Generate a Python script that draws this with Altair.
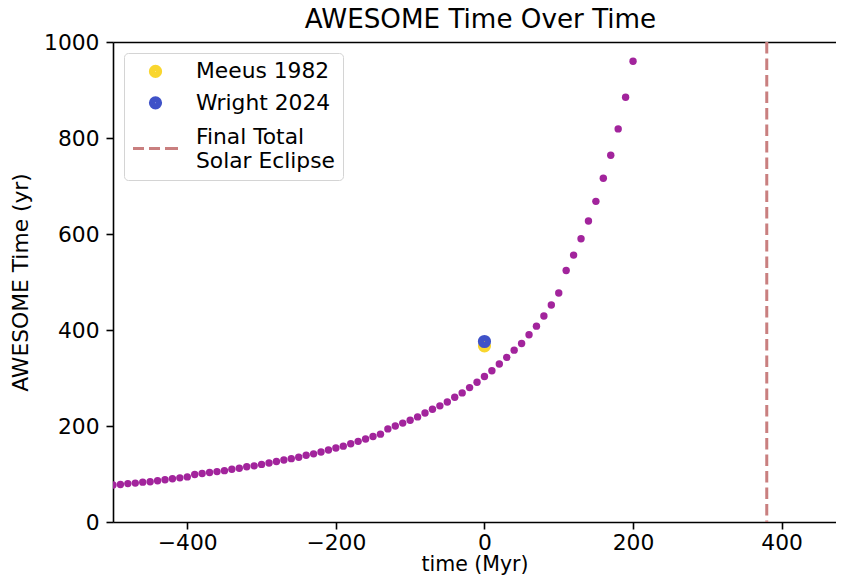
import altair as alt
import pandas as pd

# ---------------- data ----------------
time_myr = [-500, -490, -480, -470, -460, -450, -440, -430, -420, -410,
            -400, -390, -380, -370, -360, -350, -340, -330, -320, -310,
            -300, -290, -280, -270, -260, -250, -240, -230, -220, -210,
            -200, -190, -180, -170, -160, -150, -140, -130, -120, -110,
            -100, -90, -80, -70, -60, -50, -40, -30, -20, -10,
            0, 10, 20, 30, 40, 50, 60, 70, 80, 90,
            100, 110, 120, 130, 140, 150, 160, 170, 180, 190, 200]
awesome_yr = [77, 78, 80, 81, 83, 84, 86, 88, 90, 92,
              94, 99, 101, 103, 105, 107, 110, 112, 115, 117,
              120, 123, 126, 129, 132, 135, 139, 142, 146, 150,
              154, 158, 163, 168, 173, 178, 183, 194, 200, 206,
              212, 219, 227, 235, 242, 250, 260, 269, 280, 291,
              303, 315, 329, 343, 358, 372, 390, 408, 429, 452,
              477, 524, 556, 590, 627, 668, 716, 764, 819, 885, 960]

ref_names = ["Meeus 1982", "Wright 2024"]
ref_time = [0, 0]
ref_values = [367, 376]

eclipse_name = "Final Total Solar Eclipse"
eclipse_time = [380]

series_domain = ["Meeus 1982", "Wright 2024", "Final Total Solar Eclipse"]
YELLOW = "#f9d62e"
BLUE = "#3f52c8"
DASHCOL = "#c97f7f"
PURPLE = "#a2249c"
series_colors = [YELLOW, BLUE, DASHCOL]
# legend handle for the dashed line: three dashes, drawn between the two label lines
DASH_PATH = ("M-1.5625,0.8H-0.799M-0.451,0.8H0.3125M0.66,0.8H1.5625")
series_shapes = ["circle", "circle", DASH_PATH]
series_sizes = [38.5, 38.5, 829]       # small circle + wide stroke = solid disc
series_strokes = [7, 7, 3]

x_ticks = [-400, -200, 0, 200, 400]
y_ticks = [0, 200, 400, 600, 800, 1000]

FONT = "DejaVu Sans"
FS = 21.8

curve = pd.DataFrame({"time": time_myr, "awesome": awesome_yr})
refs = pd.DataFrame({"time": ref_time, "awesome": ref_values, "series": ref_names})
ecl = pd.DataFrame({"time": eclipse_time})

xscale = alt.Scale(domain=[-500, 473.2], nice=False, zero=False)
yscale = alt.Scale(domain=[0, 1000], nice=False)


def make_legend():
    return alt.Legend(
        title=None, orient="top-left", offset=11, padding=7.5, columns=1,
        fillColor="white", strokeColor="#d4d4d4", cornerRadius=4,
        rowPadding=-4.6, symbolOffset=8, labelOffset=24.5,
        labelFont=FONT, labelFontSize=FS, labelColor="black", labelLimit=400,
        labelExpr=f"datum.label === '{eclipse_name}' ? ['Final Total', 'Solar Eclipse'] : datum.label",
    )


bottom_axis = alt.Axis(values=x_ticks, title="time (Myr)", grid=False,
                       tickSize=7, labelPadding=3,
                       titleFontSize=20.5, titleBaseline="alphabetic", titleY=48)
top_axis = alt.Axis(orient="top", labels=False, ticks=False, title=None,
                    grid=False, domain=True)
y_axis = alt.Axis(values=y_ticks, format="d", title="AWESOME Time (yr)", grid=False,
                  tickSize=7, labelPadding=7,
                  titleBaseline="alphabetic", titleX=-85.5)

rule = alt.Chart(ecl).mark_rule(strokeDash=[11.5, 5], strokeWidth=3, color=DASHCOL).encode(
    x=alt.X("time:Q", scale=xscale, axis=top_axis),
)

dots = alt.Chart(curve).mark_circle(size=55, color=PURPLE, opacity=1, clip=True).encode(
    x=alt.X("time:Q", scale=xscale, axis=bottom_axis),
    y=alt.Y("awesome:Q", scale=yscale, axis=y_axis),
)

ref_pts = alt.Chart(refs).mark_point(filled=False, opacity=1).encode(
    x=alt.X("time:Q", scale=xscale, axis=None),
    y=alt.Y("awesome:Q", scale=yscale, axis=y_axis),
    color=alt.Color("series:N", scale=alt.Scale(domain=series_domain, range=series_colors),
                    legend=make_legend()),
    shape=alt.Shape("series:N", scale=alt.Scale(domain=series_domain, range=series_shapes),
                    legend=make_legend()),
    size=alt.Size("series:N", scale=alt.Scale(type="ordinal", domain=series_domain, range=series_sizes),
                  legend=make_legend()),
    strokeWidth=alt.StrokeWidth("series:N",
                                scale=alt.Scale(type="ordinal", domain=series_domain, range=series_strokes),
                                legend=make_legend()),
    order=alt.Order("series:N"),
)

chart = alt.layer(rule, dots, ref_pts).resolve_axis(x="independent").properties(
    width=723, height=480,
    autosize=alt.AutoSizeParams(type="none"),
    padding={"left": 105, "top": 34, "right": 0, "bottom": 53},
    title=alt.TitleParams("AWESOME Time Over Time", fontSize=26.2, font=FONT,
                          fontWeight="normal", anchor="middle", color="black",
                          frame="group", offset=-1, dx=6),
    background="white",
).configure_view(stroke=None).configure_axis(
    domainColor="black", domainWidth=1.6, tickColor="black", tickWidth=1.6,
    labelFont=FONT, labelFontSize=FS, labelColor="black",
    titleFont=FONT, titleFontSize=FS, titleColor="black", titleFontWeight="normal",
)

chart.save("out.html", embed_options={"renderer": "svg", "actions": False})
